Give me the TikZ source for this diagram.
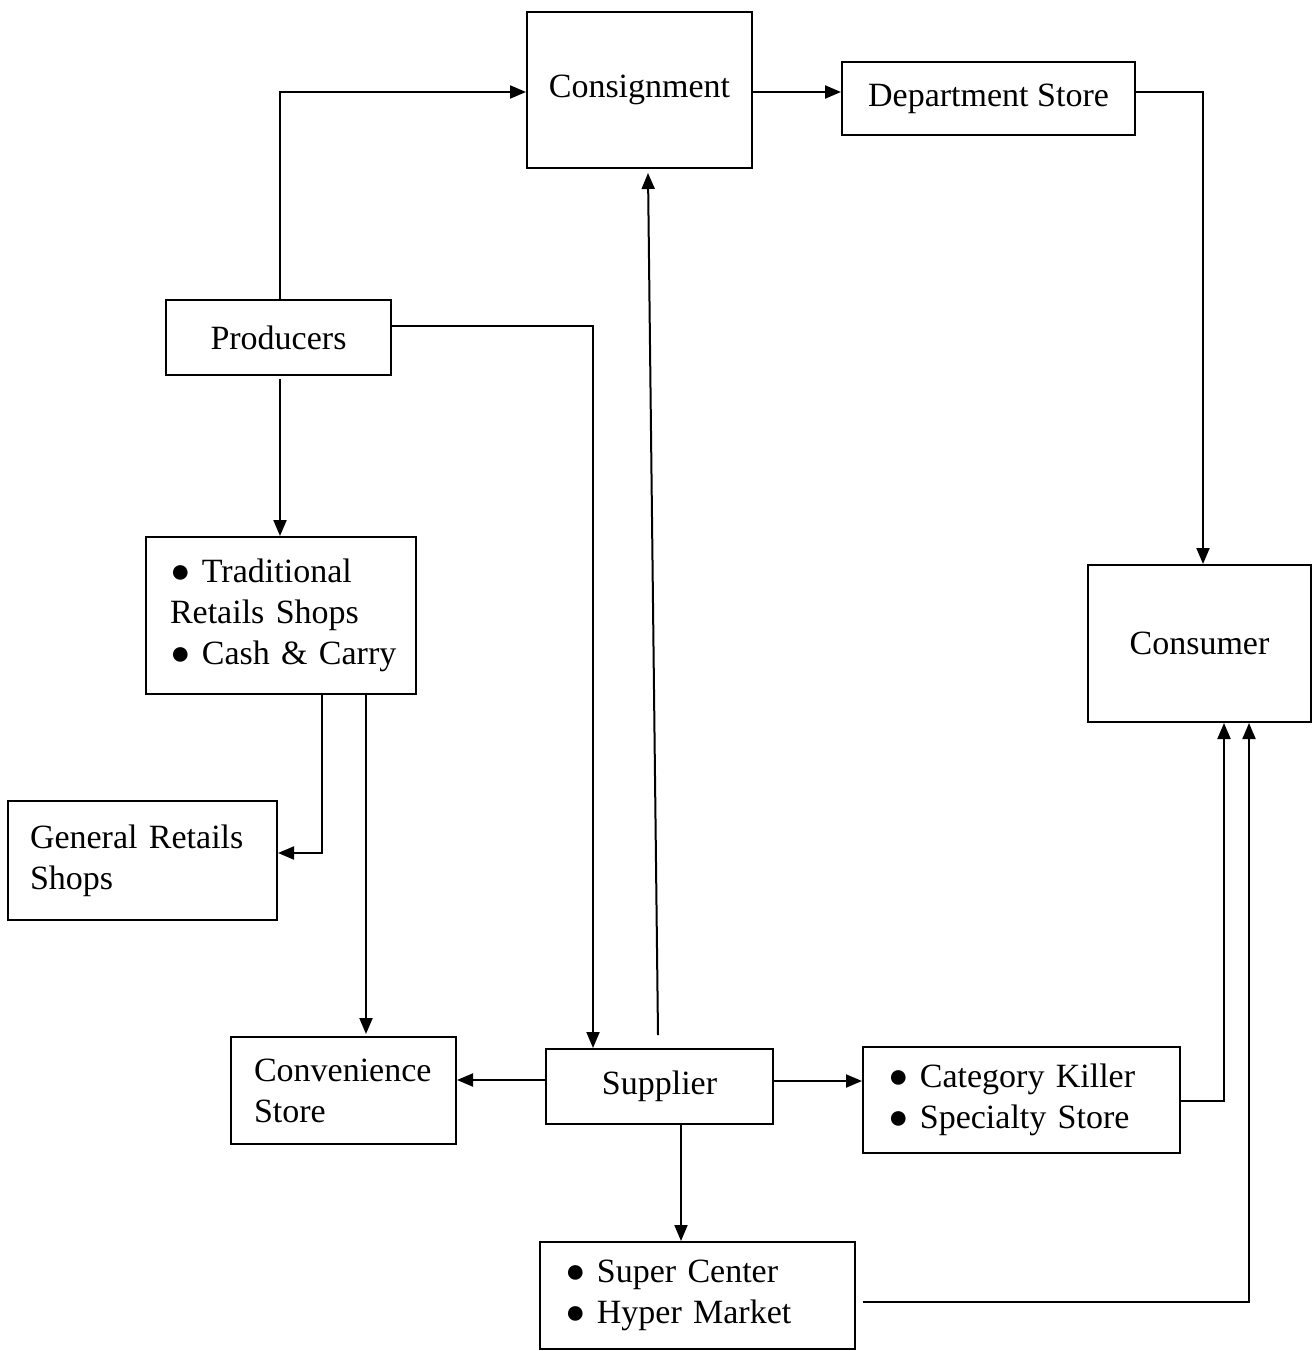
\documentclass[tikz,border=0pt]{standalone}
\usepackage{fontspec}
\setmainfont{Liberation Serif}
\usetikzlibrary{arrows.meta}
\hyphenpenalty=10000
\exhyphenpenalty=10000
\begin{document}
\begin{tikzpicture}[x=1pt,y=-1pt,
  box/.style={draw, line width=2pt, inner sep=0pt,
    font=\fontsize{34}{41}\selectfont},
  lbox/.style={box, align=left},
  link/.style={line width=2pt, -{Triangle[length=16pt,width=13pt]}}]
\useasboundingbox (0,0) rectangle (1312,1351);

\node[box, minimum width=225pt, minimum height=156pt] (consg) at (639.5,90) {Consignment};
\node[box, minimum width=293pt, minimum height=73pt] (dept) at (988.5,98.5) {Department Store};
\node[box, minimum width=225pt, minimum height=75pt] (prod) at (278.5,337.5) {Producers};
\node[lbox, minimum width=270pt, minimum height=157pt, inner xsep=24pt, text width=222pt] (trad) at (281,615.5)
  {\mbox{● Traditional}\\\mbox{Retails Shops}\\\mbox{● Cash \& Carry}};
\node[lbox, minimum width=269pt, minimum height=119pt, inner xsep=22pt, text width=225pt] (gen) at (142.5,860.5)
  {\mbox{General Retails}\\\mbox{Shops}};
\node[lbox, minimum width=225pt, minimum height=107pt, inner xsep=23pt, text width=179pt] (conv) at (343.5,1090.5)
  {\mbox{Convenience}\\\mbox{Store}};
\node[box, minimum width=227pt, minimum height=75pt] (sup) at (659.5,1086.5) {Supplier};
\node[lbox, minimum width=317pt, minimum height=106pt, inner xsep=25pt, text width=267pt] (cat) at (1021.5,1100)
  {\mbox{● Category Killer}\\\mbox{● Specialty Store}};
\node[lbox, minimum width=315pt, minimum height=107pt, inner xsep=25pt, text width=265pt] (super) at (697.5,1295.5)
  {\mbox{● Super Center}\\\mbox{● Hyper Market}};
\node[box, minimum width=223pt, minimum height=157pt] (cons) at (1199.5,643.5) {Consumer};

% connectors
\draw[link] ([xshift=1.5pt]prod.north) |- ([yshift=-2pt]consg.west);
\draw[link] ([yshift=-2pt]consg.east) -- ([yshift=6.5pt]dept.west);
\draw[link] ([yshift=6.5pt]dept.east) -| ([xshift=3.5pt]cons.north);
\draw[link] ([yshift=11.5pt]prod.east) -| ([xshift=-66.5pt]sup.north);
\draw[link] ([xshift=-1.5pt,yshift=13pt]sup.north) -- ([xshift=8.5pt,yshift=-4pt]consg.south);
\draw[link] ([xshift=1.5pt,yshift=-3pt]prod.south) -- ([xshift=-1pt]trad.north);
\draw[link] ([xshift=41pt]trad.south) |- ([yshift=7.5pt]gen.east);
\draw[link] ([xshift=85pt]trad.south) -- ([xshift=22.5pt,yshift=2pt]conv.north);
\draw[link] ([yshift=6.5pt]sup.west) -- ([yshift=10.5pt]conv.east);
\draw[link] ([yshift=5.5pt]sup.east) -- ([yshift=19pt]cat.west);
\draw[link] ([xshift=21.5pt]sup.south) -- ([xshift=-16.5pt]super.north);
\draw[link] ([yshift=-1pt]cat.east) -| ([xshift=24.5pt]cons.south);
\draw[link] ([xshift=7pt,yshift=-6.5pt]super.east) -| ([xshift=49.5pt]cons.south);
\end{tikzpicture}
\end{document}
